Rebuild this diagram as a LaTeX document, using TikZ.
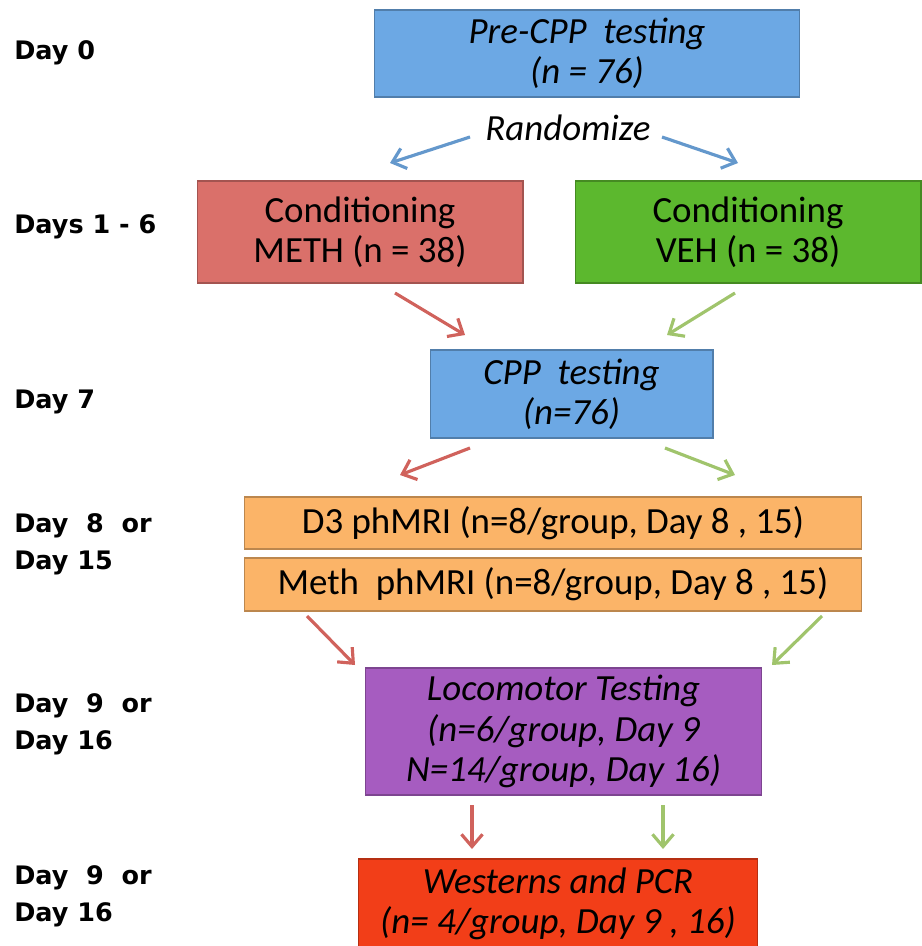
\documentclass[tikz,border=0pt]{standalone}
\usepackage{fontspec}
\setmainfont{Carlito}
\newfontfamily\dayfont{DejaVu Sans}
\usetikzlibrary{arrows.meta}

\definecolor{boxblue}{RGB}{108,168,228}
\definecolor{boxred}{RGB}{218,112,106}
\definecolor{boxgreen}{RGB}{92,184,46}
\definecolor{boxorange}{RGB}{251,180,104}
\definecolor{boxpurple}{RGB}{166,92,192}
\definecolor{boxscarlet}{RGB}{242,62,24}
\definecolor{arrblue}{RGB}{100,152,204}
\definecolor{arrred}{RGB}{208,98,92}
\definecolor{arrgreen}{RGB}{160,196,108}

\begin{document}
\begin{tikzpicture}[x=.02cm,y=-.02cm,
    box/.style={draw=#1!75!black, fill=#1, line width=.6pt, inner sep=0pt,
      align=center, font=\fontsize{21}{23}\selectfont},
    daylabel/.style={anchor=west, align=left, inner sep=0pt,
      font=\dayfont\bfseries\fontsize{14.5}{21}\selectfont},
    arr/.style={-{Straight Barb[length=7pt,width=12pt]}, line width=1.8pt, draw=#1}]
    \useasboundingbox (0,0) rectangle (921,946);

    %% day labels
    \node[daylabel] (d0) at (14,53) {Day 0};
    \node[daylabel] (d1) at (14,227) {Days 1 - 6};
    \node[daylabel] (d7) at (14,402) {Day 7};
    \node[daylabel] (d8) at (14,544) {Day\ \ 8\ \ or\\Day 15};
    \node[daylabel] (d9) at (14,724) {Day\ \ 9\ \ or\\Day 16};
    \node[daylabel] (d9b) at (14,896) {Day\ \ 9\ \ or\\Day 16};

    %% boxes
    \node[box=boxblue, minimum width=8.52cm, minimum height=1.74cm] (pre) at (587,53.5)
      {\itshape Pre-CPP\ \ testing\\\itshape (n = 76)};
    \node[font=\itshape\fontsize{21}{23}\selectfont, inner sep=0pt] (rand) at (568,128) {Randomize};
    \node[box=boxred, minimum width=6.52cm, minimum height=2.04cm] (meth) at (360,232)
      {Conditioning\\METH (n = 38)};
    \node[box=boxgreen, minimum width=6.92cm, minimum height=2.04cm] (veh) at (748,232)
      {Conditioning\\VEH (n = 38)};
    \node[box=boxblue, minimum width=5.66cm, minimum height=1.76cm] (cpp) at (571.5,394)
      {\itshape CPP\ \ testing\\\itshape (n=76)};
    \node[box=boxorange, minimum width=12.36cm, minimum height=1.04cm] (d3) at (553,523)
      {D3 phMRI (n=8/group, Day 8 , 15)};
    \node[box=boxorange, minimum width=12.36cm, minimum height=1.06cm] (mri) at (553,584.5)
      {Meth\ \ phMRI (n=8/group, Day 8 , 15)};
    \node[box=boxpurple, minimum width=7.94cm, minimum height=2.54cm] (loco) at (563.5,731.5)
      {\itshape Locomotor Testing\\\itshape (n=6/group, Day 9\\\itshape N=14/group, Day 16)};
    \node[box=boxscarlet, minimum width=8cm, minimum height=1.8cm] (wes) at (558,904)
      {\itshape Westerns and PCR\\\itshape (n= 4/group, Day 9 , 16)};

    %% connectors
    \coordinate (a1) at (470,137);  \coordinate (b1) at (390,163);
    \coordinate (a2) at (662,137);  \coordinate (b2) at (738,163);
    \coordinate (a3) at (395,293);  \coordinate (b3) at (465,335);
    \coordinate (a4) at (735,293);  \coordinate (b4) at (667,335);
    \coordinate (a5) at (470,448);  \coordinate (b5) at (400,475);
    \coordinate (a6) at (665,448);  \coordinate (b6) at (735,475);
    \coordinate (a7) at (307,616);  \coordinate (b7) at (355,665);
    \coordinate (a8) at (822,616);  \coordinate (b8) at (772,665);
    \coordinate (a9) at (472,805);  \coordinate (b9) at (472,849);
    \coordinate (a10) at (663,805); \coordinate (b10) at (663,849);

    \draw[arr=arrblue] (a1) -- (b1);
    \draw[arr=arrblue] (a2) -- (b2);
    \draw[arr=arrred] (a3) -- (b3);
    \draw[arr=arrgreen] (a4) -- (b4);
    \draw[arr=arrred] (a5) -- (b5);
    \draw[arr=arrgreen] (a6) -- (b6);
    \draw[arr=arrred] (a7) -- (b7);
    \draw[arr=arrgreen] (a8) -- (b8);
    \draw[arr=arrred] (a9) -- (b9);
    \draw[arr=arrgreen] (a10) -- (b10);
  \end{tikzpicture}
\end{document}
